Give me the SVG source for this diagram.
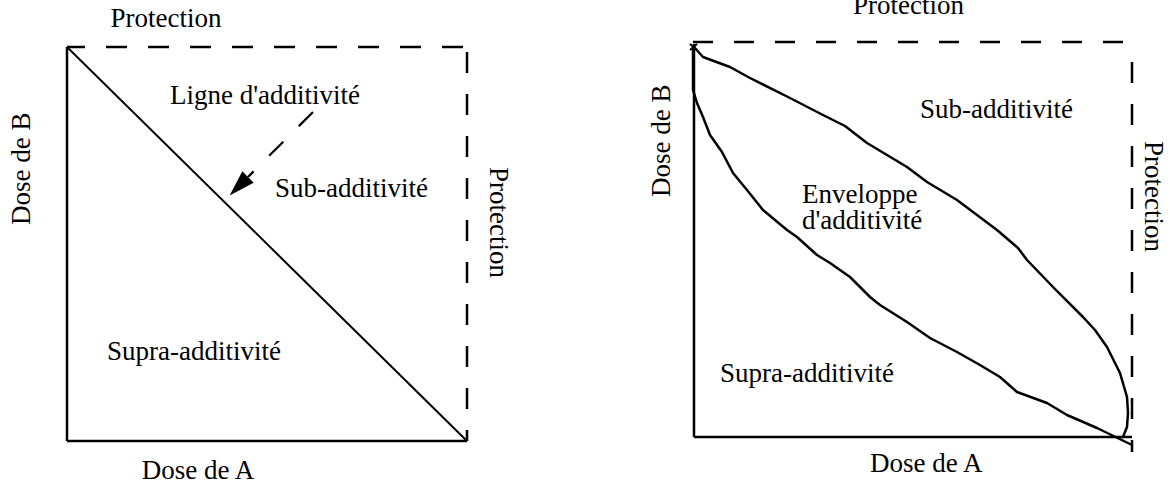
<svg xmlns="http://www.w3.org/2000/svg" width="1170" height="488" viewBox="0 0 1170 488">
<style>
text{font-family:"Liberation Serif","Times New Roman",serif;font-size:27px;fill:#000}
.solid{stroke:#000;stroke-width:2.5;fill:none}
.dash{stroke:#000;stroke-width:2.5;fill:none;stroke-dasharray:21 21}
.thin{stroke:#000;stroke-width:2;fill:none}
.curve{stroke:#000;stroke-width:2.5;fill:none;stroke-linejoin:round;stroke-linecap:round}
</style>
<defs>
<marker id="ah" viewBox="0 0 26 16" refX="0" refY="8" markerWidth="26" markerHeight="16" markerUnits="userSpaceOnUse" orient="auto">
<path d="M0,0 L26,8 L0,16 z" fill="#000"/>
</marker>
</defs>
<g id="left-chart">
<line class="solid" x1="67" y1="47" x2="67" y2="441"/>
<line class="solid" x1="67" y1="441" x2="467" y2="441"/>
<line class="dash" x1="67" y1="47" x2="467" y2="47" style="stroke-dashoffset:3"/>
<line class="dash" x1="467" y1="52" x2="467" y2="441"/>
<line class="thin" x1="67" y1="47" x2="467" y2="441"/>
<text x="166" y="27" text-anchor="middle">Protection</text>
<text x="170" y="104">Ligne d'additivité</text>
<text x="275" y="197">Sub-additivité</text>
<text x="107" y="360">Supra-additivité</text>
<text x="198" y="479" text-anchor="middle">Dose de A</text>
<text transform="translate(30,225) rotate(-90)">Dose de B</text>
<text transform="translate(490,167) rotate(90)">Protection</text>
</g>
<g id="right-chart">
<line class="solid" x1="694" y1="44" x2="694" y2="437"/>
<line class="solid" x1="694" y1="437" x2="1132" y2="437"/>
<line class="dash" x1="693" y1="42" x2="1132" y2="42" style="stroke-dasharray:20 21"/>
<line class="dash" x1="1132" y1="62" x2="1132" y2="452"/>
<path class="thin" d="M690,44 L697,50 M697,44 L690,50"/>
<polyline class="curve" points="694,47 703,57 730,67 750,78 790,98 823,115 845,126 867,143 907,167 927,182 957,200 997,230 1018,248 1027,260 1053,287 1083,317 1095,330 1107,347 1120,373 1127,397 1128,413 1127,427 1123,437"/>
<polyline class="curve" points="693,47 693,67 693,90 697,103 703,117 710,135 722,152 733,173 747,190 763,210 787,230 797,237 817,255 830,263 850,277 870,297 880,305 907,322 930,338 957,352 980,365 1000,377 1017,392 1047,403 1067,415 1097,428 1132,445"/>
<text x="853" y="14">Protection</text>
<text x="920" y="118">Sub-additivité</text>
<text x="802" y="203">Enveloppe</text>
<text x="802" y="229">d'additivité</text>
<text x="720" y="382">Supra-additivité</text>
<text x="870" y="472">Dose de A</text>
<text transform="translate(670,197) rotate(-90)">Dose de B</text>
<text transform="translate(1145,141) rotate(90)">Protection</text>
</g>
<g id="connectors">
<line class="dash" x1="313" y1="112" x2="248" y2="177" style="stroke-width:2.2;stroke-dasharray:20 22" marker-end="url(#ah)"/>
</g>
</svg>
